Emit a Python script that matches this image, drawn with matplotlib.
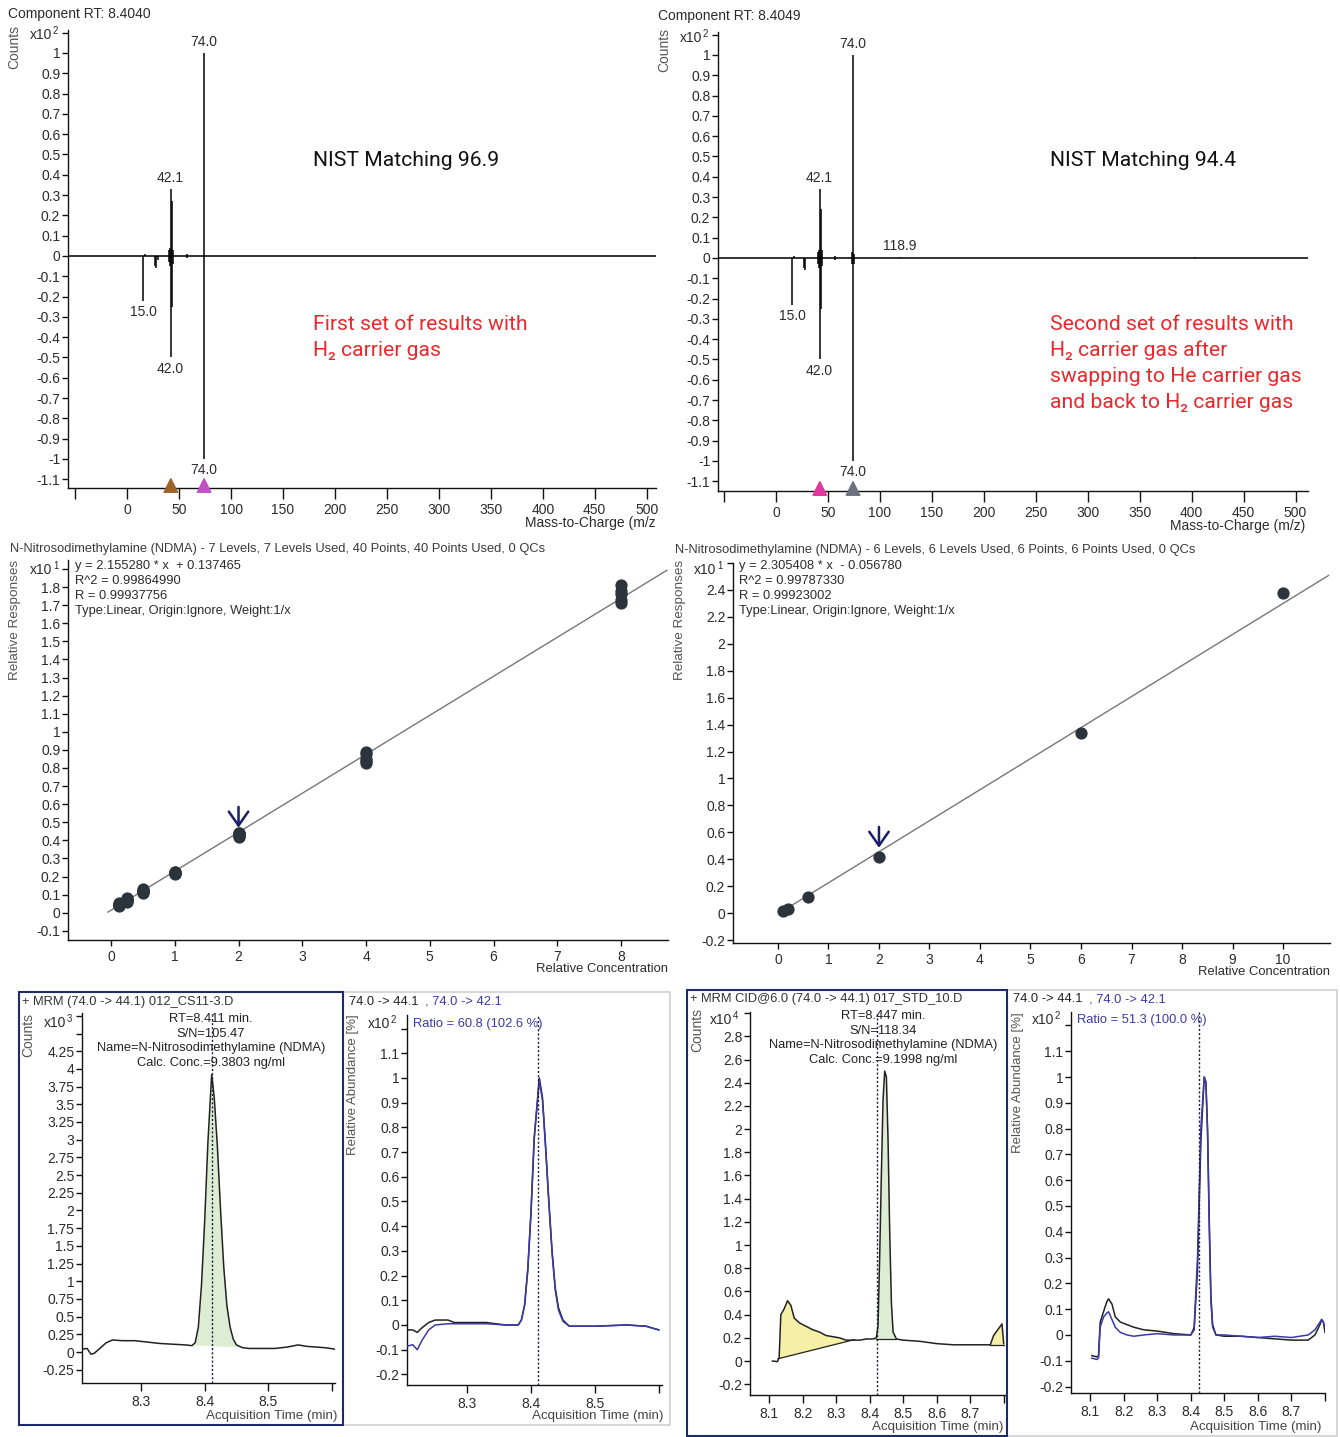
import numpy as np
import matplotlib
matplotlib.use('Agg')
import matplotlib.pyplot as plt
from matplotlib.patches import Rectangle

W, H = 1340, 1437
SANS = ['Liberation Sans', 'DejaVu Sans']
ROBOTO = ['Roboto', 'DejaVu Sans']
plt.rcParams['font.family'] = SANS

# ---------------- data: mass spectra (x10^2 counts; sample up, library down) ----------------
tl_rt = 'Component RT: 8.4040'
tl_up_mz = [17, 40, 41, 42, 43, 44, 58, 74]
tl_up_int = [0.01, 0.03, 0.04, 0.33, 0.27, 0.03, 0.01, 1.00]
tl_dn_mz = [15, 27, 28, 30, 40, 41, 42, 43, 44, 58, 74]
tl_dn_int = [-0.22, -0.05, -0.06, -0.02, -0.03, -0.05, -0.50, -0.25, -0.04, -0.01, -1.00]
tl_lab_mz = [74.0, 41.3, 15.4, 41.3, 74.0]
tl_lab_val = [1.00, 0.33, -0.22, -0.50, -1.00]
tl_lab_txt = ['74.0', '42.1', '15.0', '42.0', '74.0']
tl_tri_mz = [42, 74]
tl_tri_col = ['#9c6428', '#c24fc6']

tr_rt = 'Component RT: 8.4049'
tr_up_mz = [17, 40, 41, 42, 43, 44, 57, 73, 74, 75, 118.9, 403]
tr_up_int = [0.01, 0.03, 0.04, 0.34, 0.24, 0.04, 0.01, 0.03, 1.00, 0.02, 0.005, 0.004]
tr_dn_mz = [15, 27, 28, 40, 41, 42, 43, 44, 57, 73, 74, 75]
tr_dn_int = [-0.23, -0.05, -0.06, -0.03, -0.05, -0.50, -0.25, -0.04, -0.01, -0.03, -1.00, -0.03]
tr_lab_mz = [74.0, 41.3, 118.5, 15.4, 41.3, 74.0]
tr_lab_val = [1.00, 0.34, 0.005, -0.23, -0.50, -1.00]
tr_lab_txt = ['74.0', '42.1', '118.9', '15.0', '42.0', '74.0']
tr_tri_mz = [42, 74]
tr_tri_col = ['#e0359c', '#6e7280']

# ---------------- data: calibration curves (x10^1 relative responses) ----------------
ml_title = 'N-Nitrosodimethylamine (NDMA) - 7 Levels, 7 Levels Used, 40 Points, 40 Points Used, 0 QCs'
ml_conc = [0.125] * 6 + [0.25] * 6 + [0.5] * 6 + [1] * 6 + [2] * 6 + [4] * 5 + [8] * 5
ml_resp = [0.035, 0.04, 0.04, 0.045, 0.05, 0.055,
           0.06, 0.065, 0.07, 0.07, 0.075, 0.08,
           0.11, 0.115, 0.12, 0.12, 0.125, 0.13,
           0.215, 0.22, 0.22, 0.225, 0.22, 0.225,
           0.42, 0.425, 0.43, 0.435, 0.44, 0.44,
           0.83, 0.84, 0.85, 0.88, 0.89,
           1.71, 1.73, 1.76, 1.78, 1.81]
ml_slope, ml_icpt = 2.155280, 0.137465
ml_info = ['y = 2.155280 * x  + 0.137465', 'R^2 = 0.99864990', 'R = 0.99937756',
           'Type:Linear, Origin:Ignore, Weight:1/x']

mr_title = 'N-Nitrosodimethylamine (NDMA) - 6 Levels, 6 Levels Used, 6 Points, 6 Points Used, 0 QCs'
mr_conc = [0.1, 0.2, 0.6, 2, 6, 10]
mr_resp = [0.015, 0.03, 0.12, 0.42, 1.34, 2.38]
mr_slope, mr_icpt = 2.305408, -0.056780
mr_info = ['y = 2.305408 * x  - 0.056780', 'R^2 = 0.99787330', 'R = 0.99923002',
           'Type:Linear, Origin:Ignore, Weight:1/x']

# ---------------- data: chromatograms ----------------
b1_title = '+ MRM (74.0 -> 44.1) 012_CS11-3.D'
b1_t = [8.207, 8.215, 8.221, 8.226, 8.235, 8.245, 8.255, 8.27, 8.29, 8.31, 8.33, 8.35, 8.37,
        8.38, 8.385, 8.39, 8.395, 8.40, 8.405, 8.411, 8.415, 8.42, 8.425, 8.43, 8.435, 8.44,
        8.445, 8.45, 8.46, 8.47, 8.49, 8.51, 8.53, 8.547, 8.56, 8.575, 8.59, 8.605]
b1_y = [0.04, 0.05, -0.03, -0.02, 0.05, 0.13, 0.17, 0.16, 0.16, 0.14, 0.12, 0.11, 0.10,
        0.09, 0.13, 0.35, 0.95, 1.85, 2.95, 3.92, 3.60, 2.90, 2.00, 1.20, 0.65, 0.35,
        0.18, 0.10, 0.06, 0.05, 0.05, 0.05, 0.07, 0.10, 0.08, 0.07, 0.06, 0.04]
b1_info = ['RT=8.411 min.', 'S/N=105.47', 'Name=N-Nitrosodimethylamine (NDMA)', 'Calc. Conc.=9.3803 ng/ml']
b1_rt = 8.411

b2_t = [8.207, 8.215, 8.222, 8.23, 8.24, 8.25, 8.27, 8.28, 8.30, 8.33, 8.36, 8.38, 8.385,
        8.39, 8.395, 8.40, 8.405, 8.413, 8.418, 8.423, 8.428, 8.433, 8.438, 8.443, 8.45,
        8.46, 8.50, 8.55, 8.58, 8.60]
b2_k = [-0.02, -0.02, -0.03, -0.01, 0.01, 0.02, 0.02, 0.01, 0.01, 0.01, 0.0, 0.0, 0.02,
        0.08, 0.22, 0.45, 0.75, 1.00, 0.92, 0.72, 0.50, 0.30, 0.15, 0.07, 0.02,
        -0.005, -0.005, 0.0, -0.005, -0.02]
b2_b = [-0.085, -0.08, -0.10, -0.06, -0.02, 0.0, 0.005, 0.005, 0.005, 0.005, 0.0, 0.0, 0.02,
        0.08, 0.23, 0.46, 0.76, 0.99, 0.91, 0.71, 0.49, 0.29, 0.14, 0.06, 0.015,
        -0.005, -0.005, 0.0, -0.005, -0.02]
b2_ratio = 'Ratio = 60.8 (102.6 %)'

b3_title = '+ MRM CID@6.0 (74.0 -> 44.1) 017_STD_10.D'
b3_t = [8.11, 8.125, 8.13, 8.135, 8.145, 8.155, 8.165, 8.175, 8.19, 8.21, 8.23, 8.25, 8.27,
        8.29, 8.31, 8.33, 8.35, 8.37, 8.39, 8.41, 8.42, 8.425, 8.43, 8.435, 8.44, 8.445,
        8.45, 8.455, 8.46, 8.465, 8.47, 8.48, 8.50, 8.55, 8.60, 8.65, 8.70, 8.76, 8.77,
        8.785, 8.795, 8.80]
b3_y = [0.0, -0.005, 0.03, 0.40, 0.45, 0.52, 0.48, 0.37, 0.33, 0.30, 0.27, 0.25, 0.22,
        0.21, 0.20, 0.18, 0.18, 0.18, 0.19, 0.19, 0.20, 0.30, 0.90, 1.60, 2.25, 2.50,
        2.45, 1.90, 1.10, 0.50, 0.25, 0.19, 0.18, 0.17, 0.15, 0.14, 0.14, 0.14, 0.22,
        0.28, 0.32, 0.15]
b3_info = ['RT=8.447 min.', 'S/N=118.34', 'Name=N-Nitrosodimethylamine (NDMA)', 'Calc. Conc.=9.1998 ng/ml']
b3_rt = 8.422

b4_t = [8.105, 8.12, 8.125, 8.13, 8.14, 8.15, 8.155, 8.165, 8.175, 8.19, 8.21, 8.23, 8.26,
        8.30, 8.35, 8.40, 8.41, 8.42, 8.43, 8.44, 8.445, 8.45, 8.455, 8.46, 8.465, 8.475,
        8.50, 8.55, 8.60, 8.65, 8.70, 8.75, 8.77, 8.785, 8.79, 8.795, 8.80]
b4_k = [-0.08, -0.085, -0.08, 0.05, 0.09, 0.13, 0.14, 0.12, 0.07, 0.05, 0.04, 0.03, 0.02,
        0.015, 0.005, 0.0, 0.02, 0.25, 0.75, 1.00, 0.98, 0.80, 0.45, 0.15, 0.04, 0.0,
        -0.005, -0.005, -0.01, -0.015, -0.02, -0.02, 0.0, 0.04, 0.06, 0.05, 0.01]
b4_b = [-0.09, -0.095, -0.09, 0.03, 0.07, 0.085, 0.09, 0.06, 0.03, 0.01, 0.0, -0.005, 0.0,
        0.005, 0.0, 0.0, 0.03, 0.30, 0.80, 1.00, 0.98, 0.78, 0.42, 0.13, 0.03, 0.0,
        0.0, -0.005, -0.01, -0.005, -0.01, 0.0, 0.02, 0.05, 0.06, 0.05, 0.03]
b4_ratio = 'Ratio = 51.3 (100.0 %)'

# ---------------- helpers ----------------
fig = plt.figure(figsize=(W / 100, H / 100), dpi=100)
fig.patch.set_facecolor('white')
TXT = '#2b2b2b'
NAVY = '#1f2a6b'
BLUE = '#3a3aa8'
RED = '#e8282b'
FS_T = 9.3     # titles / info text
FS_BIG = 15.2  # annotations


def ftext(x, y, s, **kw):
    kw.setdefault('va', 'center')
    kw.setdefault('ha', 'left')
    kw.setdefault('color', TXT)
    kw.setdefault('fontsize', 10)
    return fig.text(x / W, 1 - y / H, s, **kw)


def make_ax(box):
    x0, y0, x1, y1 = box
    ax = fig.add_axes([x0 / W, 1 - y1 / H, (x1 - x0) / W, (y1 - y0) / H])
    ax.set_facecolor('none')
    for s in ('top', 'right'):
        ax.spines[s].set_visible(False)
    for s in ('left', 'bottom'):
        ax.spines[s].set_linewidth(1.0)
        ax.spines[s].set_color('#111111')
    ax.tick_params(direction='out', length=4, width=1, labelsize=10, labelcolor=TXT,
                   color='#111111', pad=1.5)
    return ax


def fmt(v):
    v = round(float(v), 3) + 0.0
    return '%g' % v


def set_ticks(ax, axis, ticks, hide=()):
    labels = ['' if any(abs(t - h) < 1e-9 for h in hide) else fmt(t) for t in ticks]
    if axis == 'x':
        ax.set_xticks(ticks)
        ax.set_xticklabels(labels)
    else:
        ax.set_yticks(ticks)
        ax.set_yticklabels(labels)


def x10(x, y, e):
    ftext(x, y, 'x10', fontsize=10)
    ftext(x + 23, y - 4, e, fontsize=7)


# ---------------- top: spectra ----------------
def spectrum(box, xlim, ylim, up_mz, up_i, dn_mz, dn_i, lab_mz, lab_v, lab_t, tri_mz, tri_c, px_per_unit):
    ax = make_ax(box)
    ax.set_xlim(*xlim)
    ax.set_ylim(*ylim)
    ax.axhline(0, color='#111111', lw=1.2)
    ax.vlines(up_mz, 0, up_i, color='black', lw=1.1)
    ax.vlines(dn_mz, 0, dn_i, color='black', lw=1.1)
    for m, v, t in zip(lab_mz, lab_v, lab_t):
        if v >= 0:
            ax.text(m, v + 0.02, t, ha='center', va='bottom', fontsize=10, color=TXT)
        else:
            ax.text(m, v - 0.02, t, ha='center', va='top', fontsize=10, color=TXT)
    ax.scatter(tri_mz, [ylim[0] + 2.5 / px_per_unit] * len(tri_mz), marker='^', s=95,
               c=tri_c, zorder=5, clip_on=False)
    set_ticks(ax, 'y', np.round(np.arange(-1.1, 1.1001, 0.1), 2), hide=(1.1,))
    set_ticks(ax, 'x', list(range(-50, 501, 50)), hide=(-50,))
    ax.tick_params(axis='x', length=8, pad=3)
    return ax


spectrum((68, 30, 656, 488), (-57, 509), (-1.143, 1.113), tl_up_mz, tl_up_int, tl_dn_mz, tl_dn_int,
         tl_lab_mz, tl_lab_val, tl_lab_txt, tl_tri_mz, tl_tri_col, 203)
ftext(8, 14, tl_rt)
ftext(14, 47, 'Counts', rotation=90, ha='center', color='#555555')
x10(30, 35, '2')
ftext(656, 523, 'Mass-to-Charge (m/z', ha='right')
ftext(313, 160, 'NIST Matching 96.9', family=ROBOTO, fontsize=FS_BIG, color='#111111')
ftext(313, 325, 'First set of results with', family=ROBOTO, fontsize=FS_BIG, color=RED)
ftext(313, 350, 'H₂ carrier gas', family=ROBOTO, fontsize=FS_BIG, color=RED)

spectrum((718, 32, 1308, 491), (-56, 512), (-1.148, 1.113), tr_up_mz, tr_up_int, tr_dn_mz, tr_dn_int,
         tr_lab_mz, tr_lab_val, tr_lab_txt, tr_tri_mz, tr_tri_col, 203)
ftext(658, 16, tr_rt)
ftext(664, 50, 'Counts', rotation=90, ha='center', color='#555555')
x10(680, 38, '2')
ftext(1305, 526, 'Mass-to-Charge (m/z)', ha='right')
ftext(1050, 160, 'NIST Matching 94.4', family=ROBOTO, fontsize=FS_BIG, color='#111111')
for yy, s in zip([325, 350, 376, 402], ['Second set of results with', 'H₂ carrier gas after',
                                         'swapping to He carrier gas', 'and back to H₂ carrier gas']):
    ftext(1050, yy, s, family=ROBOTO, fontsize=FS_BIG, color=RED)


# ---------------- middle: calibration ----------------
def calib(box, xlim, ylim, conc, resp, slope, icpt, line_x, yticks, hide, xticks, arrow):
    ax = make_ax(box)
    ax.set_xlim(*xlim)
    ax.set_ylim(*ylim)
    lx = np.array(line_x)
    ax.plot(lx, (slope * lx + icpt) / 10.0, color='#777777', lw=1.0, zorder=2)
    ax.plot(conc, resp, 'o', ms=7.8, color='#2b333d', zorder=3)
    ax.annotate('', xy=(2, arrow[1]), xytext=(2, arrow[0]),
                arrowprops=dict(arrowstyle='->,head_length=0.5,head_width=0.35', color='#1c1c6b',
                                lw=1.8, mutation_scale=20, shrinkA=0, shrinkB=0))
    set_ticks(ax, 'y', yticks, hide=hide)
    set_ticks(ax, 'x', xticks)
    ax.tick_params(axis='x', pad=3)
    return ax


calib((68, 560, 668, 940), (-0.675, 8.737), (-0.151, 1.95), ml_conc, ml_resp, ml_slope, ml_icpt,
      [-0.05, 8.72], np.round(np.arange(-0.1, 1.9001, 0.1), 2), (1.9,), list(range(0, 9)), (0.585, 0.47))
ftext(10, 549, ml_title, color='#3a3a3a', fontsize=FS_T)
ftext(15, 620, 'Relative Responses', rotation=90, ha='center', color='#555555', fontsize=9.7)
x10(30, 570, '1')
for i, s in enumerate(ml_info):
    ftext(75, 566 + 15 * i, s, fontsize=FS_T)
ftext(668, 969, 'Relative Concentration', ha='right', fontsize=9.4)

calib((733, 563, 1330, 943), (-0.89, 10.93), (-0.222, 2.6), mr_conc, mr_resp, mr_slope, mr_icpt,
      [0.05, 10.9], np.round(np.arange(-0.2, 2.6001, 0.2), 2), (2.6,), list(range(0, 11)), (0.64, 0.485))
ftext(675, 550, mr_title, color='#3a3a3a', fontsize=FS_T)
ftext(680, 620, 'Relative Responses', rotation=90, ha='center', color='#555555', fontsize=9.7)
x10(694, 570, '1')
for i, s in enumerate(mr_info):
    ftext(739, 566 + 15 * i, s, fontsize=FS_T)
ftext(1330, 972, 'Relative Concentration', ha='right', fontsize=9.4)

# ---------------- bottom: chromatograms ----------------
for (x0, y0, x1, y1), ec, lw in [((343, 992, 670, 1425), '#d0d0d0', 1.2),
                                  ((1007, 990, 1337, 1436), '#d0d0d0', 1.2),
                                  ((19, 992, 343, 1425), NAVY, 1.5),
                                  ((687, 990, 1007, 1436), NAVY, 1.5)]:
    fig.patches.append(Rectangle((x0 / W, 1 - y1 / H), (x1 - x0) / W, (y1 - y0) / H,
                                 transform=fig.transFigure, fill=False, ec=ec, lw=lw))


def fill_peak(ax, t, y, t0, b0, t1, b1, color, baseline=False):
    t = np.asarray(t)
    y = np.asarray(y)
    tt = np.concatenate([[t0], t[(t > t0) & (t < t1)], [t1]])
    yy = np.interp(tt, t, y)
    bb = np.interp(tt, [t0, t1], [b0, b1])
    ax.fill_between(tt, bb, yy, color=color, lw=0, zorder=1)
    if baseline:
        ax.plot([t0, t1], [b0, b1], color='#222222', lw=0.9, zorder=2)


def chrom_ax(box, xlim, ylim, xticks, xhide, yticks, yhide):
    ax = make_ax(box)
    ax.set_xlim(*xlim)
    ax.set_ylim(*ylim)
    set_ticks(ax, 'x', xticks, hide=xhide)
    set_ticks(ax, 'y', yticks, hide=yhide)
    ax.tick_params(axis='x', length=6, pad=3)
    return ax


# panel 1
ax = chrom_ax((82, 1013, 335, 1383), (8.207, 8.605), (-0.438, 4.79), [8.3, 8.4, 8.5, 8.6], (8.6,),
              np.round(np.arange(-0.25, 4.7501, 0.25), 2), (4.5, 4.75))
fill_peak(ax, b1_t, b1_y, 8.382, 0.10, 8.458, 0.07, '#dcedd3')
ax.plot(b1_t, b1_y, color='#222222', lw=1.1, zorder=3)
ax.axvline(b1_rt, color='#1a1a40', lw=1.0, ls=(0, (1.5, 1.5)), zorder=4)
ftext(22, 1002, b1_title, color='#333333', fontsize=FS_T)
ftext(28, 1035, 'Counts', rotation=90, ha='center', color='#555555')
x10(44, 1023, '3')
for i, s in enumerate(b1_info):
    ftext(211, 1019 + 14.7 * i, s, ha='center', color='#222222', fontsize=FS_T)
ftext(338, 1416, 'Acquisition Time (min)', ha='right', color='#444444', fontsize=9.6)

# panel 2
ax = chrom_ax((407, 1015, 662, 1385), (8.206, 8.605), (-0.243, 1.255), [8.3, 8.4, 8.5, 8.6], (8.6,),
              np.round(np.arange(-0.2, 1.2001, 0.1), 2), (1.2,))
ax.plot(b2_t, b2_k, color='#222222', lw=1.1, zorder=3)
ax.plot(b2_t, b2_b, color=BLUE, lw=1.1, zorder=3)
ax.axvline(b1_rt, color='#1a1a40', lw=1.0, ls=(0, (1.5, 1.5)), zorder=4)
ftext(349, 1002, '74.0 -> 44.1', color='#222222', fontsize=FS_T)
ftext(425, 1002, ', 74.0 -> 42.1', color=BLUE, fontsize=FS_T)
ftext(353, 1085, 'Relative Abundance [%]', rotation=90, ha='center', color='#555555', fontsize=9.5)
x10(368, 1024, '2')
ftext(413, 1024, b2_ratio, color=BLUE, fontsize=FS_T)
ftext(664, 1416, 'Acquisition Time (min)', ha='right', color='#444444', fontsize=9.6)

# panel 3
ax = chrom_ax((750, 1012, 1005, 1395), (8.043, 8.804), (-0.293, 3.01),
              [8.1, 8.2, 8.3, 8.4, 8.5, 8.6, 8.7, 8.8], (8.8,),
              np.round(np.arange(-0.2, 3.0001, 0.2), 2), (3.0,))
fill_peak(ax, b3_t, b3_y, 8.127, 0.02, 8.355, 0.185, '#f6f0a6', baseline=True)
fill_peak(ax, b3_t, b3_y, 8.76, 0.14, 8.80, 0.14, '#f6f0a6', baseline=True)
fill_peak(ax, b3_t, b3_y, 8.418, 0.19, 8.478, 0.19, '#dcedd3', baseline=True)
ax.plot(b3_t, b3_y, color='#222222', lw=1.1, zorder=3)
ax.axvline(b3_rt, color='#1a1a40', lw=1.0, ls=(0, (1.5, 1.5)), zorder=4)
ftext(690, 999, b3_title, color='#333333', fontsize=FS_T)
ftext(697, 1030, 'Counts', rotation=90, ha='center', color='#555555')
x10(710, 1020, '4')
for i, s in enumerate(b3_info):
    ftext(883, 1016 + 14.7 * i, s, ha='center', color='#222222', fontsize=FS_T)
ftext(1003, 1427, 'Acquisition Time (min)', ha='right', color='#444444', fontsize=9.6)

# panel 4
ax = chrom_ax((1071, 1012, 1325, 1393), (8.043, 8.80),
              (-0.225, 1.252), [8.1, 8.2, 8.3, 8.4, 8.5, 8.6, 8.7, 8.8], (8.8,),
              np.round(np.arange(-0.2, 1.2001, 0.1), 2), (1.2,))
ax.plot(b4_t, b4_k, color='#222222', lw=1.1, zorder=3)
ax.plot(b4_t, b4_b, color=BLUE, lw=1.1, zorder=3)
ax.axvline(8.425, color='#1a1a40', lw=1.0, ls=(0, (1.5, 1.5)), zorder=4)
ftext(1013, 999, '74.0 -> 44.1', color='#222222', fontsize=FS_T)
ftext(1089, 999, ', 74.0 -> 42.1', color=BLUE, fontsize=FS_T)
ftext(1018, 1083, 'Relative Abundance [%]', rotation=90, ha='center', color='#555555', fontsize=9.5)
x10(1032, 1020, '2')
ftext(1077, 1020, b4_ratio, color=BLUE, fontsize=FS_T)
ftext(1322, 1427, 'Acquisition Time (min)', ha='right', color='#444444', fontsize=9.6)

fig.savefig('out.png', dpi=100, facecolor='white')
